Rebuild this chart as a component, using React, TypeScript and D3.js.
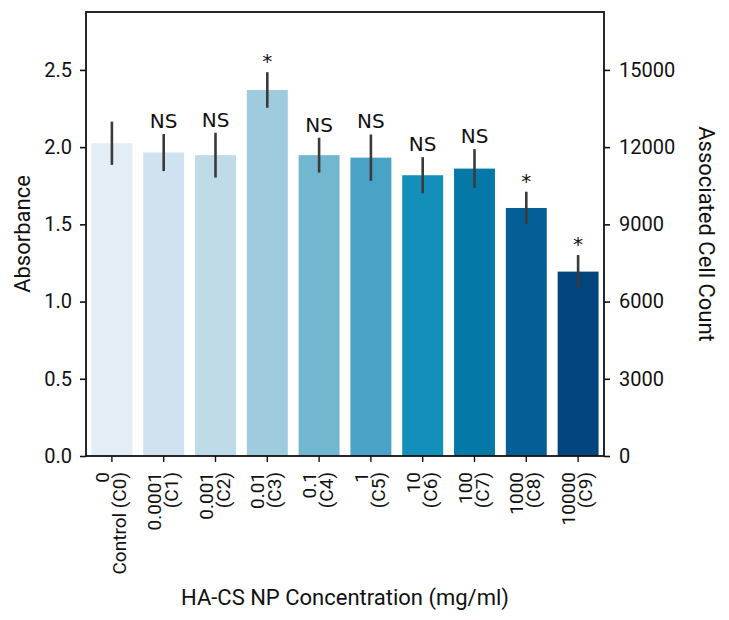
import React, { useRef, useEffect } from 'react';
import * as d3 from 'd3';

const doses = ['0', '0.0001', '0.001', '0.01', '0.1', '1', '10', '100', '1000', '10000'];
const groups = ['Control (C0)', '(C1)', '(C2)', '(C3)', '(C4)', '(C5)', '(C6)', '(C7)', '(C8)', '(C9)'];
const absorbance = [2.025, 1.965, 1.948, 2.37, 1.948, 1.932, 1.818, 1.861, 1.606, 1.194];
const errors = [0.14, 0.12, 0.145, 0.115, 0.113, 0.15, 0.117, 0.126, 0.105, 0.107];
const marks = ['', 'NS', 'NS', '*', 'NS', 'NS', 'NS', 'NS', '*', '*'];
const barColors = ['#e2edf6', '#d0e2ef', '#bfdbe8', '#9ecbde', '#72b6d0', '#4ba2c7', '#138fba', '#0479a8', '#045f97', '#03467f'];
const leftTicks = [0, 0.5, 1.0, 1.5, 2.0, 2.5];
const rightTicks = [0, 3000, 6000, 9000, 12000, 15000];

const W = 729;
const H = 620;

const App: React.FC = () => {
  const svgRef = useRef<SVGSVGElement | null>(null);

  useEffect(() => {
    const svg = d3.select(svgRef.current);
    svg.selectAll('*').remove();

    const margin = { top: 12, right: 125, bottom: 164, left: 86 };
    const width = W - margin.left - margin.right;
    const height = H - margin.top - margin.bottom;
    const font = 'Roboto, sans-serif';

    const x = d3.scaleBand<string>()
      .domain(groups)
      .range([0, width])
      .paddingInner(0.21)
      .paddingOuter(0.105);

    const y = d3.scaleLinear().domain([0, 2.875]).range([height, 0]);
    const yR = d3.scaleLinear().domain([0, 2.875 * 6000]).range([height, 0]);

    const g = svg.append('g').attr('transform', `translate(${margin.left},${margin.top})`);

    // bars
    g.selectAll('.bar')
      .data(absorbance)
      .enter()
      .append('rect')
      .attr('class', 'bar')
      .attr('x', (_, i) => x(groups[i])!)
      .attr('y', d => y(d))
      .attr('width', x.bandwidth())
      .attr('height', d => height - y(d))
      .attr('fill', (_, i) => barColors[i]);

    // error bars
    g.selectAll('.err')
      .data(absorbance)
      .enter()
      .append('line')
      .attr('class', 'err')
      .attr('x1', (_, i) => x(groups[i])! + x.bandwidth() / 2)
      .attr('x2', (_, i) => x(groups[i])! + x.bandwidth() / 2)
      .attr('y1', (d, i) => y(d + errors[i]))
      .attr('y2', (d, i) => y(d - errors[i]))
      .attr('stroke', '#3a3a3a')
      .attr('stroke-width', 2.6);

    // significance marks
    g.selectAll('.mark')
      .data(absorbance)
      .enter()
      .append('text')
      .attr('class', 'mark')
      .attr('x', (_, i) => x(groups[i])! + x.bandwidth() / 2)
      .attr('y', (d, i) => y(d + errors[i]) - (marks[i] === '*' ? 4 : 6))
      .attr('text-anchor', 'middle')
      .style('font-family', 'DejaVu Sans, sans-serif')
      .style('font-size', '20px')
      .attr('fill', '#111')
      .text((_, i) => marks[i]);

    // frame
    g.append('rect')
      .attr('x', 0)
      .attr('y', 0)
      .attr('width', width)
      .attr('height', height)
      .attr('fill', 'none')
      .attr('stroke', '#111')
      .attr('stroke-width', 1.8);

    // left axis
    const left = g.append('g')
      .call(d3.axisLeft(y).tickValues(leftTicks).tickSize(6).tickPadding(8).tickFormat(d3.format('.1f')));
    left.select('.domain').remove();
    left.selectAll('line').attr('stroke', '#111').attr('stroke-width', 1.6);
    left.selectAll('text').style('font-family', font).style('font-size', '20px').attr('fill', '#111');

    // right axis
    const right = g.append('g')
      .attr('transform', `translate(${width},0)`)
      .call(d3.axisRight(yR).tickValues(rightTicks).tickSize(6).tickPadding(9).tickFormat(d3.format('d')));
    right.select('.domain').remove();
    right.selectAll('line').attr('stroke', '#111').attr('stroke-width', 1.6);
    right.selectAll('text').style('font-family', font).style('font-size', '20px').attr('fill', '#111');

    // bottom axis
    const bottom = g.append('g')
      .attr('transform', `translate(0,${height})`)
      .call(d3.axisBottom(x).tickSize(6).tickFormat(() => ''));
    bottom.select('.domain').remove();
    bottom.selectAll('line').attr('stroke', '#111').attr('stroke-width', 1.4);

    // two-line rotated tick labels
    groups.forEach((grp, i) => {
      const cx = x(grp)! + x.bandwidth() / 2;
      const t = g.append('text')
        .attr('transform', `translate(${cx},${height + 16}) rotate(-90)`)
        .attr('text-anchor', 'end')
        .style('font-family', font)
        .style('font-size', '19px')
        .attr('fill', '#111');
      t.append('tspan').attr('x', 0).attr('y', -3).text(doses[i]);
      t.append('tspan').attr('x', 0).attr('y', 14).text(grp);
    });

    // axis titles
    g.append('text')
      .attr('transform', `translate(${-56},${height / 2}) rotate(-90)`)
      .attr('text-anchor', 'middle')
      .style('font-family', font)
      .style('font-size', '22px')
      .attr('fill', '#111')
      .text('Absorbance');

    g.append('text')
      .attr('transform', `translate(${width + 95},${height / 2}) rotate(90)`)
      .attr('text-anchor', 'middle')
      .style('font-family', font)
      .style('font-size', '22px')
      .attr('fill', '#111')
      .text('Associated Cell Count');

    g.append('text')
      .attr('x', width / 2)
      .attr('y', height + 149)
      .attr('text-anchor', 'middle')
      .style('font-family', font)
      .style('font-size', '22px')
      .attr('fill', '#111')
      .text('HA-CS NP Concentration (mg/ml)');
  }, []);

  return (
    <svg
      ref={svgRef}
      width={W}
      height={H}
      style={{ position: 'absolute', left: 0, top: 0, background: 'white' }}
    />
  );
};

export default App;
